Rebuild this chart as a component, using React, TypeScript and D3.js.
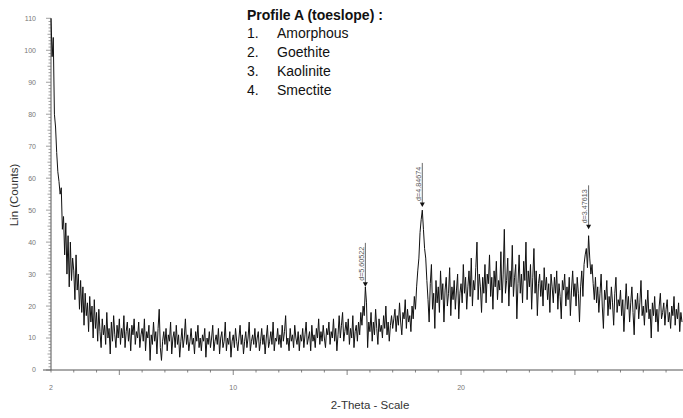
import React from 'react';
import * as d3 from 'd3';

// XRD scan: 2-Theta start / step (degrees) and counts
const START_2THETA = 2.0;
const STEP_2THETA = 0.05;
const counts: number[] = [
  // 2
  110, 98, 104, 80, 76, 68, 62, 59, 55, 57, 44, 48, 36, 46, 30, 42, 26, 40, 28, 35,
  // 3
  31, 22, 36, 25, 30, 19, 28, 18, 26, 14, 24, 17, 21, 12, 23, 15, 20, 10, 22, 13,
  // 4
  18, 9, 19, 12, 7, 16, 11, 14, 8, 18, 10, 13, 5, 15, 9, 17, 11, 7, 14, 10,
  // 5
  16, 8, 13, 10, 17, 7, 12, 15, 9, 13, 6, 14, 11, 16, 8, 12, 10, 15, 7, 11,
  // 6
  13, 9, 16, 6, 12, 10, 14, 3, 11, 8, 15, 9, 12, 5, 13, 19, 7, 3, 9, 12,
  // 7
  8, 13, 6, 11, 9, 15, 5, 10, 12, 7, 14, 8, 11, 4, 9, 13, 7, 10, 16, 8,
  // 8
  11, 6, 9, 13, 8, 10, 5, 12, 9, 14, 7, 10, 6, 11, 9, 13, 4, 10, 8, 12,
  // 9
  7, 10, 14, 6, 9, 11, 8, 13, 5, 10, 12, 7, 9, 15, 6, 10, 8, 12, 4, 9,
  // 10
  11, 7, 13, 9, 6, 10, 14, 8, 11, 5, 9, 12, 7, 10, 15, 6, 9, 11, 8, 13,
  // 11
  7, 10, 12, 6, 9, 13, 8, 11, 5, 10, 14, 7, 9, 12, 8, 15, 6, 10, 9, 13,
  // 12
  8, 11, 7, 14, 9, 12, 17, 8, 10, 6, 13, 9, 11, 7, 14, 10, 8, 12, 6, 11,
  // 13
  9, 13, 7, 11, 15, 8, 10, 12, 6, 14, 9, 11, 7, 13, 10, 16, 8, 12, 9, 14,
  // 14
  10, 7, 13, 11, 15, 8, 12, 10, 16, 9, 13, 6, 11, 17, 10, 14, 18, 9, 12, 15,
  // 15
  11, 16, 8, 13, 10, 17, 7, 12, 14, 9, 15, 11, 18, 14, 20, 17, 26, 21, 7, 15,
  // 16
  12, 18, 9, 15, 11, 19, 13, 8, 16, 12, 14, 10, 17, 13, 20, 11, 15, 9, 14, 17,
  // 17
  13, 16, 19, 12, 17, 14, 21, 15, 11, 18, 16, 22, 13, 19, 15, 17, 12, 20, 16, 23,
  // 18
  19, 26, 31, 35, 43, 47, 50, 44, 38, 35, 28, 22, 15, 27, 33, 19, 24, 13, 28, 21,
  // 19
  26, 18, 31, 22, 27, 15, 25, 29, 20, 24, 32, 17, 26, 22, 28, 19, 25, 30, 16, 24,
  // 20
  27, 21, 33, 24, 29, 19, 26, 31, 23, 35, 20, 28, 25, 32, 40, 22, 30, 26, 18, 29,
  // 21
  24, 33, 21, 30, 27, 36, 23, 29, 19, 31, 26, 34, 22, 28, 25, 37, 21, 30, 44, 24,
  // 22
  28, 35, 20, 31, 26, 39, 23, 29, 33, 16, 27, 36, 24, 30, 21, 34, 28, 40, 22, 31,
  // 23
  26, 33, 19, 29, 38, 24, 31, 17, 27, 30, 23, 28, 20, 32, 25, 29, 22, 27, 18, 30,
  // 24
  26, 21, 29, 24, 31, 19, 27, 23, 16, 28, 25, 30, 20, 26, 22, 29, 17, 25, 31, 23,
  // 25
  27, 20, 29, 24, 15, 26, 31, 23, 33, 36, 38, 32, 42, 35, 30, 33, 27, 22, 29, 21,
  // 26
  26, 18, 24, 30, 20, 13, 25, 22, 28, 17, 23, 19, 26, 21, 14, 24, 29, 18, 22, 20,
  // 27
  25, 17, 22, 12, 20, 27, 19, 23, 15, 21, 26, 18, 11, 22, 19, 24, 16, 21, 28, 17,
  // 28
  20, 14, 22, 18, 25, 16, 19, 10, 21, 17, 23, 15, 19, 12, 20, 24, 16, 18, 21, 14,
  // 29
  19, 22, 15, 18, 13, 20, 17, 23, 14, 19, 16, 21, 12, 18, 15,
];

const xDomain = [2, 29.7];
const yDomain = [0, 110];
const xTickLabels = [2, 10, 20];
const yTickLabels = [0, 10, 20, 30, 40, 50, 60, 70, 80, 90, 100, 110];

const peakTheta = [15.8, 18.3, 25.6];
const peakCounts = [26, 51, 44];
const peakLabels = ['d=5.60522', 'd=4.84674', 'd=3.47613'];

const legendTitle = 'Profile A (toeslope) :';
const legendNumbers = ['1.', '2.', '3.', '4.'];
const legendPhases = ['Amorphous', 'Goethite', 'Kaolinite', 'Smectite'];

const FONT = '"Liberation Sans", Arial, sans-serif';

export default function App() {
  const W = 683;
  const H = 418;
  const x = d3.scaleLinear().domain(xDomain).range([51, 682]);
  const y = d3.scaleLinear().domain(yDomain).range([370, 18.3]);

  const line = d3
    .line<number>()
    .x((_, i) => x(START_2THETA + i * STEP_2THETA))
    .y((d) => y(d));

  const xMinor = d3.range(2, 30, 1);
  const yMinor = d3.range(0, 111, 1);

  return (
    <svg
      width={W}
      height={H}
      style={{ position: 'absolute', left: 0, top: 0, background: '#fff' }}
      fontFamily={FONT}
    >
      {/* y axis */}
      <line x1={x(2)} x2={x(2)} y1={y(110)} y2={y(0)} stroke="#555" strokeWidth={1} />
      {yMinor.map((v) => {
        const len = v % 10 === 0 ? 5 : v % 5 === 0 ? 3.5 : 2.5;
        return (
          <line key={'ym' + v} x1={x(2) - len} x2={x(2)} y1={y(v)} y2={y(v)} stroke="#777" strokeWidth={0.7} />
        );
      })}
      {yTickLabels.map((v) => (
        <text key={'yl' + v} x={36} y={y(v)} dy="0.35em" textAnchor="end" fontSize={7} fill="#777">
          {v}
        </text>
      ))}

      {/* x axis */}
      <line x1={43} x2={W} y1={y(0)} y2={y(0)} stroke="#555" strokeWidth={1} />
      {xMinor.map((v) => {
        const len = v % 5 === 0 ? 5 : 2.5;
        return (
          <line key={'xm' + v} x1={x(v)} x2={x(v)} y1={y(0)} y2={y(0) + len} stroke="#666" strokeWidth={0.8} />
        );
      })}
      {xTickLabels.map((v) => (
        <text key={'xl' + v} x={x(v)} y={390} textAnchor="middle" fontSize={7} fill="#777">
          {v}
        </text>
      ))}

      {/* axis titles */}
      <text
        transform={`translate(18, 195) rotate(-90)`}
        textAnchor="middle"
        fontSize={11.5}
        fill="#333"
      >
        Lin (Counts)
      </text>
      <text x={370} y={409} textAnchor="middle" fontSize={11.5} fill="#333">
        2-Theta - Scale
      </text>

      {/* pattern */}
      <path d={line(counts) || ''} fill="none" stroke="#111" strokeWidth={1} strokeLinejoin="round" />

      {/* peak annotations */}
      {peakTheta.map((t, i) => {
        const px = x(t);
        const tip = y(peakCounts[i]);
        return (
          <g key={'pk' + i}>
            <line x1={px} x2={px} y1={tip - 44} y2={tip - 4} stroke="#444" strokeWidth={0.8} />
            <path d={`M${px - 2.5},${tip - 4.5}L${px + 2.5},${tip - 4.5}L${px},${tip}Z`} fill="#111" />
            <text
              transform={`translate(${px - 1.5}, ${tip - 6}) rotate(-90)`}
              fontSize={7.2}
              fill="#555"
            >
              {peakLabels[i]}
            </text>
          </g>
        );
      })}

      {/* legend */}
      <text x={247} y={20} fontSize={14} fontWeight="bold" fill="#111">
        {legendTitle}
      </text>
      {legendPhases.map((p, i) => (
        <g key={'lg' + i}>
          <text x={247} y={38 + i * 19} fontSize={14} fill="#111">
            {legendNumbers[i]}
          </text>
          <text x={277} y={38 + i * 19} fontSize={14} fill="#111">
            {p}
          </text>
        </g>
      ))}
    </svg>
  );
}
